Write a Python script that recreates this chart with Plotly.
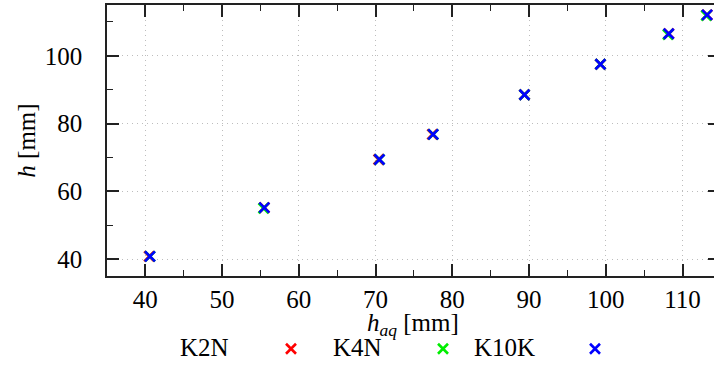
import plotly.graph_objects as go

# Data
series_names = ["K2N", "K4N", "K10K"]
series_colors = ["#ff0000", "#00ee00", "#0000ff"]

k2n_x = [40.5, 55.5, 70.4, 77.4, 89.4, 99.3, 108.2, 113.2]
k2n_y = [40.8, 55.2, 69.4, 76.8, 88.5, 97.5, 106.5, 112.1]

k4n_x = [40.6, 55.4, 70.5, 77.5, 89.4, 99.3, 108.1, 113.1]
k4n_y = [40.8, 55.0, 69.4, 76.8, 88.5, 97.5, 106.3, 111.9]

k10k_x = [40.6, 55.5, 70.5, 77.5, 89.4, 99.3, 108.2, 113.2]
k10k_y = [40.8, 55.2, 69.4, 76.8, 88.5, 97.5, 106.5, 112.1]

xs = [k2n_x, k4n_x, k10k_x]
ys = [k2n_y, k4n_y, k10k_y]

# the plot frame runs slightly past the right edge of the 714 px window
W, H = 720, 366
ML, MR, MT, MB = 107, 0, 5, 90
PW = W - ML - MR
PH = H - MT - MB

FONT = "Liberation Serif, Times New Roman, Times, serif"
FS = 25

fig = go.Figure()
for name, color, x, y in zip(series_names, series_colors, xs, ys):
    fig.add_trace(go.Scatter(
        x=x, y=y, mode="markers", name=" ",
        marker=dict(symbol="x-thin", size=10, color=color,
                    line=dict(width=2.6, color=color)),
        showlegend=True,
    ))

def px_x(p):
    return (p - ML) / PW

def px_y(p):
    return (H - MB - p) / PH

# legend labels (gnuplot style: text before sample)
label_right_px = [231, 384, 537]
for name, xr in zip(series_names, label_right_px):
    fig.add_annotation(text=name, x=px_x(xr), y=px_y(347), xref="paper", yref="paper",
                       xanchor="right", yanchor="middle", showarrow=False,
                       font=dict(family=FONT, size=FS, color="black"))

# x-axis title placed as annotation for exact position
fig.add_annotation(text="<i>h</i><sub><i>aq</i></sub> [mm]", x=px_x(413), y=px_y(324),
                   xref="paper", yref="paper", xanchor="center", yanchor="middle",
                   showarrow=False, font=dict(family=FONT, size=FS, color="black"))

axis_common = dict(
    showline=True, linecolor="#222222", linewidth=1.5, mirror="ticks",
    ticks="inside", ticklen=12, tickwidth=1.5, tickcolor="#222222",
    showgrid=True, gridcolor="#bdbdbd", griddash="1px,4px", gridwidth=1,
    zeroline=False,
    tickfont=dict(family=FONT, size=FS, color="black"),
)

fig.update_xaxes(
    range=[35, 114.88], tick0=40, dtick=10,
    minor=dict(ticks="inside", ticklen=6, dtick=5, tick0=35, tickcolor="#222222", tickwidth=1.2, showgrid=False),
    ticklabelstandoff=0,
    **axis_common,
)
fig.update_yaxes(
    range=[35, 115], tick0=40, dtick=20,
    minor=dict(ticks="inside", ticklen=6, dtick=10, tick0=40, tickcolor="#222222", tickwidth=1.2, showgrid=False),
    title=dict(text="<i>h</i> [mm]", font=dict(family=FONT, size=FS, color="black"), standoff=2),
    ticklabelstandoff=18,
    **axis_common,
)

fig.update_layout(
    width=W, height=H,
    margin=dict(l=ML, r=MR, t=MT, b=MB, autoexpand=False),
    paper_bgcolor="white", plot_bgcolor="white",
    font=dict(family=FONT, size=FS, color="black"),
    legend=dict(orientation="h", x=px_x(271), xanchor="left", y=px_y(349), yanchor="middle",
                entrywidth=107, entrywidthmode="pixels", bgcolor="rgba(0,0,0,0)",
                font=dict(family=FONT, size=FS), itemwidth=30, traceorder="normal"),
    showlegend=True,
)

fig.write_html("out.html", config={"displayModeBar": False},
               post_script="document.body.style.margin='0';document.body.style.overflow='hidden';")
